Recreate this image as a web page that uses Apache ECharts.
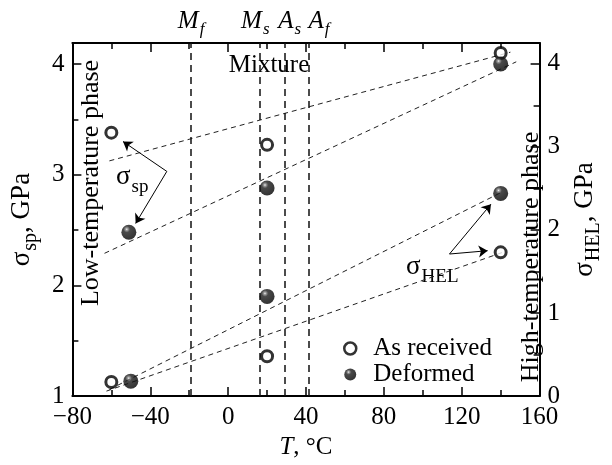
<!DOCTYPE html>
<html><head><meta charset="utf-8">
<script src="https://cdn.jsdelivr.net/npm/echarts@6/dist/echarts.min.js"></script>
<style>html,body{margin:0;padding:0;background:#fff}#c{width:612px;height:465px}</style>
</head><body><div id="c"></div>
<script>
// ---- data ----
const xRange = [-80, 160];
const spRange = [1, 4.19];
const helRange = [0, 4.25];

const tempSpAsReceived = [-60, 20, 140];
const spAsReceived = [3.38, 3.27, 4.10];
const tempSpDeformed = [-51, 20, 140];
const spDeformed = [2.48, 2.88, 4.00];

const tempHelAsReceived = [-60, 20, 140];
const helAsReceived = [0.17, 0.48, 1.73];
const tempHelDeformed = [-50, 20, 140];
const helDeformed = [0.18, 1.20, 2.44];

const trendSpAsReceived = [[-61, 3.125], [145, 4.107]];
const trendSpDeformed = [[-63.5, 2.29], [148, 4.02]];
const trendHelDeformed = [[-61, 0.08], [141, 2.46]];
const trendHelAsReceived = [[-62.5, 0.06], [141, 1.73]];

const transitionLetters = ['M', 'M', 'A', 'A'];
const transitionSubs = ['f', 's', 's', 'f'];
const transitionTemps = [-19, 16, 29, 41.5];
const transitionLabelShift = [0, -4, 5, 10];

const arrowSpFrom = [-31.5, 3.03];
const arrowSpTo = [[-54, 3.30], [-47.5, 2.56]];
const arrowHelFrom = [113.7, 1.71];
const arrowHelTo = [[135, 2.31], [133.3, 1.75]];

const legendNames = ['As received', 'Deformed'];

// ---- rendering ----
const SERIF = '"Liberation Serif","Times New Roman",serif';
const zip = (xs, ys) => xs.map((x, i) => [x, ys[i]]);
const minus = v => String(v).replace('-', '\u2212');

const rich = {
  g: {fontFamily: SERIF, fontSize: 25, lineHeight: 26, verticalAlign: 'top', color: '#000'},
  gi: {fontFamily: SERIF, fontSize: 25, fontStyle: 'italic', lineHeight: 26, verticalAlign: 'top', color: '#000'},
  sbi: {fontFamily: SERIF, fontSize: 17, fontStyle: 'italic', lineHeight: 17, padding: [12, 0, 0, 1], verticalAlign: 'top', color: '#000'},
  n: {fontFamily: SERIF, fontSize: 27, lineHeight: 28, verticalAlign: 'top', color: '#000'},
  nsb: {fontFamily: SERIF, fontSize: 20, lineHeight: 20, padding: [13, 0, 0, 1], verticalAlign: 'top', color: '#000'},
  big: {fontFamily: SERIF, fontSize: 27, lineHeight: 28, verticalAlign: 'top', color: '#000'},
  bsb: {fontFamily: SERIF, fontSize: 19, lineHeight: 19, padding: [15, 0, 0, 1], verticalAlign: 'top', color: '#000'}
};

const sphere = new echarts.graphic.RadialGradient(0.36, 0.3, 0.72, [
  {offset: 0, color: '#f4f4f4'},
  {offset: 0.1, color: '#8a8a8a'},
  {offset: 0.3, color: '#1c1c1c'},
  {offset: 1, color: '#000000'}
]);

const axisLineStyle = {show: true, onZero: false, lineStyle: {color: '#000', width: 2}};
const labelStyle = {fontFamily: SERIF, fontSize: 25, color: '#000', lineHeight: 26};

function xAxisDef(pos, showLabel) {
  return {
    type: 'value', position: pos, min: xRange[0], max: xRange[1], interval: 40,
    axisLine: axisLineStyle, splitLine: {show: false},
    axisTick: {show: true, inside: true, length: 9, lineStyle: {color: '#000', width: 1.5}},
    minorTick: {show: true, splitNumber: 2, length: 6, lineStyle: {color: '#000', width: 1.5}},
    axisLabel: Object.assign({show: showLabel, margin: 8, formatter: v => minus(v)}, labelStyle),
    name: showLabel ? '{gi|T}{g|, \u00B0C}' : '', nameLocation: 'middle', nameGap: 35,
    nameTextStyle: {rich: rich}
  };
}
function yAxisDef(pos, range, interval, major, name, gap) {
  return {
    type: 'value', position: pos, min: range[0], max: range[1], interval: interval,
    axisLine: major ? axisLineStyle : {show: false, onZero: false}, splitLine: {show: false},
    axisTick: {show: true, inside: true, length: major ? 9 : 6, lineStyle: {color: '#000', width: 1.5}},
    axisLabel: Object.assign({show: major, margin: 8,
      formatter: v => (Math.abs(v - Math.round(v)) < 1e-9 ? String(Math.round(v)) : '')}, labelStyle),
    name: major ? name : '', nameLocation: 'middle', nameRotate: 90, nameGap: gap,
    nameTextStyle: {rich: rich}
  };
}

const dashed = {color: '#222', width: 1, type: [5, 4]};
function trend(data, yIdx, extra) {
  return Object.assign({type: 'line', data: data, xAxisIndex: 0, yAxisIndex: yIdx, symbol: 'none',
    silent: true, z: 2, lineStyle: dashed}, extra || {});
}
function arrows(from, tos) {
  return {silent: true, symbol: ['none', 'arrow'], symbolSize: 9, label: {show: false},
    lineStyle: {color: '#000', width: 1, type: 'solid'},
    data: tos.map(t => [{coord: from}, {coord: t}])};
}

const openStyle = {color: '#fff', borderColor: '#000', borderWidth: 3};
const filledStyle = {color: sphere, borderWidth: 0};

const option = {
  animation: false,
  backgroundColor: '#fff',
  grid: {left: 70, right: 62, top: 43, bottom: 65},
  xAxis: [xAxisDef('bottom', true), xAxisDef('top', false)],
  yAxis: [
    yAxisDef('left', spRange, 1, true, '{n|\u03C3}{nsb|sp}{n|, GPa}', 21),
    yAxisDef('left', spRange, 0.5, false, '', 0),
    yAxisDef('right', helRange, 1, true, '{n|\u03C3}{nsb|HEL}{n|, GPa}', 31),
    yAxisDef('right', helRange, 0.5, false, '', 0)
  ],
  legend: {
    data: [{name: legendNames[0], itemStyle: {borderWidth: 2.5, borderColor: '#000', color: '#fff'}},
           {name: legendNames[1]}],
    orient: 'vertical', left: 338, top: 331,
    itemWidth: 12, itemHeight: 12, itemGap: 1,
    textStyle: {fontFamily: SERIF, fontSize: 25, lineHeight: 24, color: '#000', padding: [0, 0, 0, 12]}
  },
  series: [
    trend(trendSpAsReceived, 0, {
      markLine: {
        silent: true, symbol: ['none', 'none'],
        lineStyle: {color: '#111', width: 1.5, type: [7, 5]},
        label: {show: true, position: 'end', distance: 8, rich: rich},
        data: transitionTemps.map((t, i) => ({
          xAxis: t,
          label: {formatter: '{gi|' + transitionLetters[i] + '}{sbi|' + transitionSubs[i] + '}',
                  offset: [transitionLabelShift[i], 0]}
        }))
      }
    }),
    trend(trendSpDeformed, 0),
    trend(trendHelDeformed, 2),
    trend(trendHelAsReceived, 2),
    {name: 'As received', type: 'scatter', xAxisIndex: 0, yAxisIndex: 0, z: 5,
      data: zip(tempSpAsReceived, spAsReceived), symbol: 'circle', symbolSize: 11, itemStyle: openStyle,
      markLine: arrows(arrowSpFrom, arrowSpTo)},
    {name: 'Deformed', type: 'scatter', xAxisIndex: 0, yAxisIndex: 0, z: 5,
      data: zip(tempSpDeformed, spDeformed), symbol: 'circle', symbolSize: 15, itemStyle: filledStyle},
    {name: 'As received', type: 'scatter', xAxisIndex: 0, yAxisIndex: 2, z: 5,
      data: zip(tempHelAsReceived, helAsReceived), symbol: 'circle', symbolSize: 11, itemStyle: openStyle,
      markLine: arrows(arrowHelFrom, arrowHelTo)},
    {name: 'Deformed', type: 'scatter', xAxisIndex: 0, yAxisIndex: 2, z: 5,
      data: zip(tempHelDeformed, helDeformed), symbol: 'circle', symbolSize: 15, itemStyle: filledStyle}
  ],
  graphic: [
    {type: 'text', x: 269, y: 65, style: {text: 'Mixture', font: '25px ' + SERIF, fill: '#000', align: 'center', verticalAlign: 'middle'}},
    {type: 'text', x: 91, y: 183, rotation: Math.PI / 2, style: {text: 'Low-temperature phase', font: '26px ' + SERIF, fill: '#000', align: 'center', verticalAlign: 'middle'}},
    {type: 'text', x: 531, y: 257, rotation: Math.PI / 2, style: {text: 'High-temperature phase', font: '26px ' + SERIF, fill: '#000', align: 'center', verticalAlign: 'middle'}},
    {type: 'text', x: 116, y: 163, style: {text: '{big|\u03C3}{bsb|sp}', rich: rich, align: 'left', verticalAlign: 'top'}},
    {type: 'text', x: 406, y: 253, style: {text: '{big|\u03C3}{bsb|HEL}', rich: rich, align: 'left', verticalAlign: 'top'}}
  ]
};
const chart = echarts.init(document.getElementById('c'));
chart.setOption(option);
</script></body></html>
